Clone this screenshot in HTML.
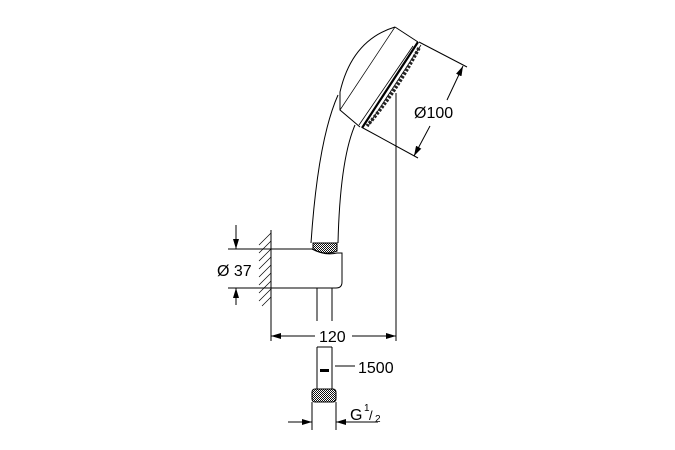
<!DOCTYPE html>
<html><head><style>html,body{margin:0;background:#fff}svg{display:block}</style></head>
<body>
<svg width="675" height="450" viewBox="0 0 675 450" xmlns="http://www.w3.org/2000/svg" font-family="Liberation Sans, sans-serif">
<defs>
<pattern id="kn" width="2" height="2" patternUnits="userSpaceOnUse"><rect width="2" height="2" fill="#fff"/><rect width="1" height="1" fill="#111"/><rect x="1" y="1" width="1" height="1" fill="#111"/></pattern>
<marker id="ar" viewBox="0 0 10 6" refX="10" refY="3" markerWidth="10" markerHeight="6" orient="auto" markerUnits="userSpaceOnUse"><path d="M0,0L10,3L0,6z" fill="#000"/></marker>
</defs>
<g fill="none" stroke="#000" stroke-width="1">
<path d="M395,27 Q352,40 340,92 L340,110 L360,127"/>
<path d="M395,27 L340,110" stroke-width="0.7"/>
<path d="M395,27 L418,42"/>
<path d="M418,42 L362,128" stroke-width="2.2"/>
<path d="M413,46 L359,125" stroke-width="0.8"/>
<path d="M421,45 L368,126" stroke-width="0.8"/>
<path d="M419,48 Q396,92 367,126" stroke="#222" stroke-width="3.5" stroke-dasharray="2.5,1.5"/>
<path d="M338,95 Q318,140 311,243"/>
<path d="M355,125 Q340,160 338,243"/>
<path d="M271,249 L312,249 Q325,256 337,253 L342,253 L342,282 Q342,288 336,288 L317,288 M271,288 L317,288"/>
<path d="M317,288 L317,321 M332,288 L332,321"/>
<path d="M313,243 L337,243 L337,251 Q325,256 313,249 Z" fill="url(#kn)"/>
<path d="M271,230 L271,305"/>
<path d="M271,233 L259,245 M271,241 L259,253 M271,249 L259,261 M271,257 L259,269 M271,265 L259,277 M271,273 L259,285 M271,281 L259,293 M271,289 L259,301 M271,297 L262,306" stroke-width="0.7"/>
<path d="M317,347 L317,389 M332,347 L332,389 M317,347 L332,347"/>
<rect x="320" y="369" width="9" height="3" fill="#000" stroke="none"/>
<rect x="312" y="389" width="24" height="13" rx="3" fill="url(#kn)"/>
<path d="M312,402 L312,430 M336,402 L336,430"/>
<path d="M236,225 L236,249" marker-end="url(#ar)"/>
<path d="M236,305 L236,288" marker-end="url(#ar)"/>
<path d="M228,249 L271,249 M228,288 L271,288"/>
<path d="M396,93 L396,341"/>
<path d="M315,336 L271,336" marker-end="url(#ar)"/>
<path d="M352,336 L396,336" marker-end="url(#ar)"/>
<path d="M271,290 L271,341"/>
<path d="M419,42 L467,67 M363,128 L418,158"/>
<path d="M447,100 L463,66" marker-end="url(#ar)"/>
<path d="M430,126 L414,156" marker-end="url(#ar)"/>
<path d="M335,366 L355,366"/>
<path d="M288,422 L312,422" marker-end="url(#ar)"/>
<path d="M378,422 L336,422" marker-end="url(#ar)"/>
</g>
<g font-size="16" fill="#000">
<text x="414" y="118">Ø100</text>
<text x="217" y="276">Ø 37</text>
<text x="319" y="342">120</text>
<text x="358" y="373">1500</text>
<text x="350" y="420">G</text>
<text x="364" y="411" font-size="10">1</text>
<text x="369" y="420" font-size="13">/</text>
<text x="375" y="422" font-size="10">2</text>
</g>
</svg>
</body></html>
